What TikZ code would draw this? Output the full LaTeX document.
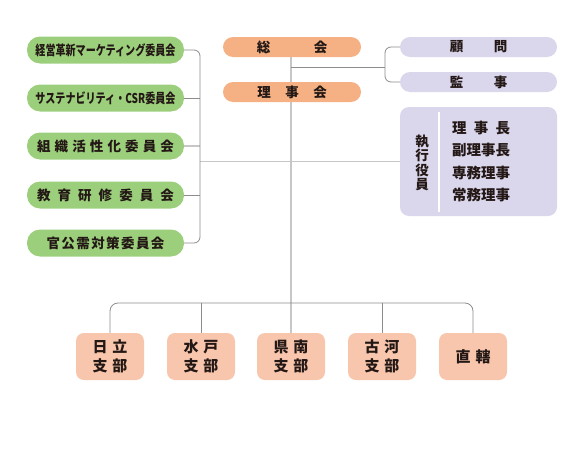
\documentclass[tikz,border=0pt]{standalone}
\usepackage{fontspec}
\setmainfont{Noto Sans CJK JP}
\usetikzlibrary{backgrounds}
\definecolor{ink}{HTML}{231815}
\definecolor{iinkai}{HTML}{9CCF7C}
\definecolor{sokai}{HTML}{F5B183}
\definecolor{yakuin}{HTML}{DAD6EC}
\definecolor{shibu}{HTML}{F8C6AC}

\providecommand{\Spread}[2]{\makebox[#1][s]{#2}}

\tikzset{
  iinbox/.style={fill=iinkai,rounded corners=13pt,minimum width=157pt,minimum height=27pt,
    inner sep=0pt,font=\fontsize{13.5}{15}\selectfont\bfseries,text=ink},
  kaibox/.style={fill=sokai,rounded corners=10pt,minimum width=138pt,minimum height=20pt,
    inner sep=0pt,font=\fontsize{13.5}{15}\selectfont\bfseries,text=ink},
  yakbox/.style={fill=yakuin,rounded corners=10pt,minimum width=157pt,minimum height=20pt,
    inner sep=0pt,font=\fontsize{13.5}{15}\selectfont\bfseries,text=ink},
  shibox/.style={fill=shibu,rounded corners=8pt,minimum width=68pt,minimum height=47pt,
    inner sep=0pt,align=center,font=\fontsize{15}{19}\selectfont\bfseries,text=ink},
  brk/.style={draw=black!45,line width=0.8pt},
  trunk/.style={draw=black!22,line width=1.3pt},
}

\begin{document}
\begin{tikzpicture}[x=1pt,y=-1pt]
\useasboundingbox (0,0) rectangle (581,463);

% committees
\node[iinbox] (g1) at (105.5,50) {\resizebox{140pt}{\height}{経営革新マーケティング委員会}};
\node[iinbox] (g2) at (105.5,98) {\resizebox{140pt}{\height}{サステナビリティ・CSR委員会}};
\node[iinbox] (g3) at (105.5,146) {\Spread{137pt}{組\hfill 織\hfill 活\hfill 性\hfill 化\hfill 委\hfill 員\hfill 会}};
\node[iinbox] (g4) at (105.5,195) {\Spread{137pt}{教\hfill 育\hfill 研\hfill 修\hfill 委\hfill 員\hfill 会}};
\node[iinbox] (g5) at (105.5,243) {\Spread{118pt}{官\hfill 公\hfill 需\hfill 対\hfill 策\hfill 委\hfill 員\hfill 会}};

% general meeting and board
\node[kaibox] (soukai) at (292,47) {総\hspace{43.5pt}会};
\node[kaibox] (rijikai) at (292,92) {理\hspace{14.5pt}事\hspace{14.5pt}会};

% advisers, auditors, officers
\node[yakbox] (komon) at (478.5,47) {顧\hspace{30.5pt}問};
\node[yakbox] (kanji) at (478.5,82) {監\hspace{30.5pt}事};
\node[fill=yakuin,rounded corners=9pt,minimum width=157pt,minimum height=109pt,inner sep=0pt] (exec) at (478.5,161.5) {};
\draw[white,line width=1.6pt] (439,112) -- (439,212);
\node[align=center,inner sep=0pt,font=\fontsize{13.5}{14.5}\selectfont\bfseries,text=ink] (shikko) at (422,163)
  {執\\行\\役\\員};
\node[align=left,anchor=west,inner sep=0pt,font=\fontsize{14.5}{22.4}\selectfont\bfseries,text=ink] (yakushoku) at (452,161.5)
  {\Spread{58pt}{理\hfill 事\hfill 長}\\副理事長\\専務理事\\常務理事};

% branches
\node[shibox] (b1) at (110,356.5) {日\hspace{5pt}立\\支\hspace{5pt}部};
\node[shibox] (b2) at (201,356.5) {水\hspace{5pt}戸\\支\hspace{5pt}部};
\node[shibox] (b3) at (291,356.5) {県\hspace{5pt}南\\支\hspace{5pt}部};
\node[shibox] (b4) at (382,356.5) {古\hspace{5pt}河\\支\hspace{5pt}部};
\node[shibox] (b5) at (473,356.5) {直\hspace{5pt}轄};

\coordinate (lbx) at (200,146);
\coordinate (rbx) at (385,67);
\coordinate (hub) at (291,303);

\begin{scope}[on background layer]
\draw[trunk] (soukai.south -| b3.north) -- (b3.north);
\end{scope}
\draw[trunk] (exec.west) -- (exec.west -| lbx);
\draw[trunk] (g3.east) -- (lbx);
\draw[brk,rounded corners=6pt] (g1.east) -| (lbx) |- (g5.east);
\draw[brk] (g2.east) -- (g2.east -| lbx);
\draw[brk] (g4.east) -- (g4.east -| lbx);
\draw[brk] (rbx -| b3.north) -- (rbx);
\draw[brk,rounded corners=6pt] (komon.west) -| (rbx) |- (kanji.west);
\draw[brk,rounded corners=8pt] (b1.north) |- (hub) -| (b5.north);
\draw[brk] (b2.north) -- (b2.north |- hub);
\draw[brk] (b4.north) -- (b4.north |- hub);
\end{tikzpicture}
\end{document}
